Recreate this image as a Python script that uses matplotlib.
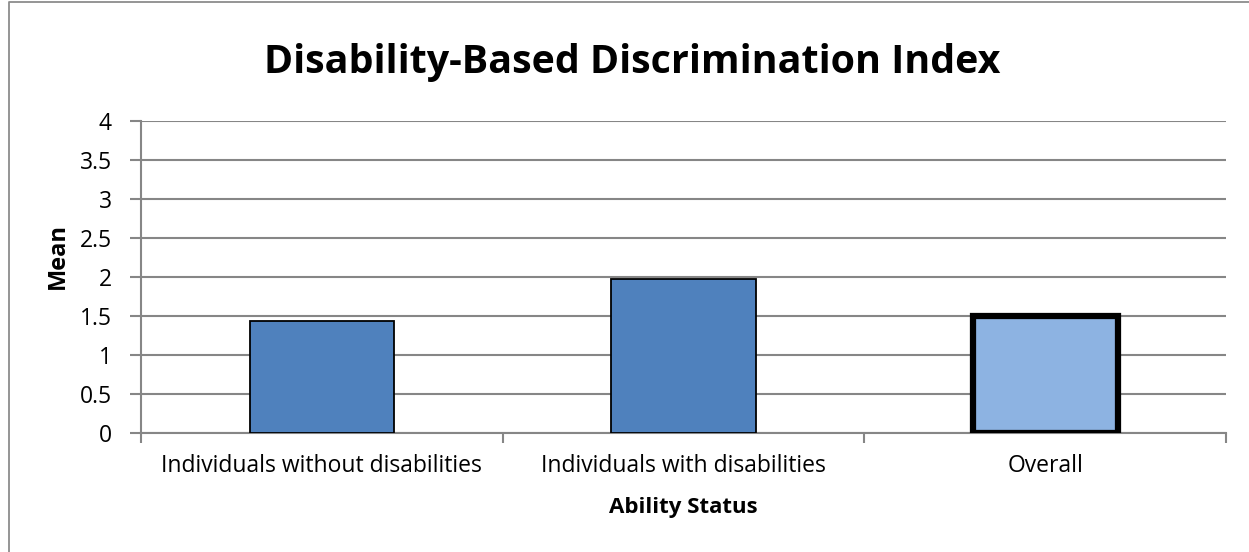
import matplotlib
matplotlib.use("Agg")
import matplotlib.pyplot as plt
from matplotlib.lines import Line2D

categories = ["Individuals without disabilities", "Individuals with disabilities", "Overall"]
means = [1.43, 1.97, 1.50]
yticks = [0, 0.5, 1, 1.5, 2, 2.5, 3, 3.5, 4]
ytick_labels = ["0", "0.5", "1", "1.5", "2", "2.5", "3", "3.5", "4"]

plt.rcParams['font.family'] = ['Open Sans', 'DejaVu Sans']

W, H = 1249, 552
fig = plt.figure(figsize=(W / 100, H / 100), dpi=100)

# chart area border (left and top edges)
fig.lines.append(Line2D([8.5 / W, 8.5 / W, 1.0], [0.0, 1 - 1.5 / H, 1 - 1.5 / H],
                        transform=fig.transFigure, color='#8c8c8c', linewidth=1.3))

left, right, top, bottom = 141, 1226, 121, 433
ax = fig.add_axes([left / W, 1 - bottom / H, (right - left) / W, (bottom - top) / H])

x = list(range(len(categories)))
fills = ['#4F81BD', '#4F81BD', '#8DB3E2']
edges = [1.3, 1.3, 4.5]
for xi, m, fc, lw in zip(x, means, fills, edges):
    ax.bar(xi, m, width=0.4, color=fc, edgecolor='black', linewidth=lw, zorder=3)

ax.set_xlim(-0.5, len(categories) - 0.5)
ax.set_ylim(0, 4)
ax.set_yticks(yticks)
ax.set_yticklabels(ytick_labels, fontsize=16.5)
ax.yaxis.grid(True, color='#868686', linewidth=1.5, zorder=0)
ax.set_axisbelow(True)

ax.set_xticks([i - 0.5 for i in range(len(categories) + 1)])
ax.set_xticklabels([])
ax.set_xticks(x, minor=True)
ax.set_xticklabels(categories, minor=True, fontsize=16.5)
ax.tick_params(axis='x', which='minor', length=0, pad=15)
ax.tick_params(axis='x', which='major', length=7, width=1.5, color='#868686')
ax.tick_params(axis='y', length=8, width=1.5, color='#868686', pad=13)

for s in ['top', 'right']:
    ax.spines[s].set_visible(False)
for s in ['left', 'bottom']:
    ax.spines[s].set_color('#868686')
    ax.spines[s].set_linewidth(1.5)

ax.set_ylabel("Mean", fontsize=17, fontweight='bold')
ax.yaxis.label.set_va('center')
ax.yaxis.set_label_coords((58 - left) / (right - left), (bottom - 256) / (bottom - top))
ax.set_xlabel("Ability Status", fontsize=16, fontweight='bold')
ax.xaxis.label.set_va('baseline')
ax.xaxis.set_label_coords(0.5, (bottom - 513) / (bottom - top))

fig.text(632.5 / W, 1 - 73 / H, "Disability-Based Discrimination Index", ha='center', va='baseline',
         fontsize=28.4, fontweight='bold')

fig.savefig("out.png", dpi=100)
